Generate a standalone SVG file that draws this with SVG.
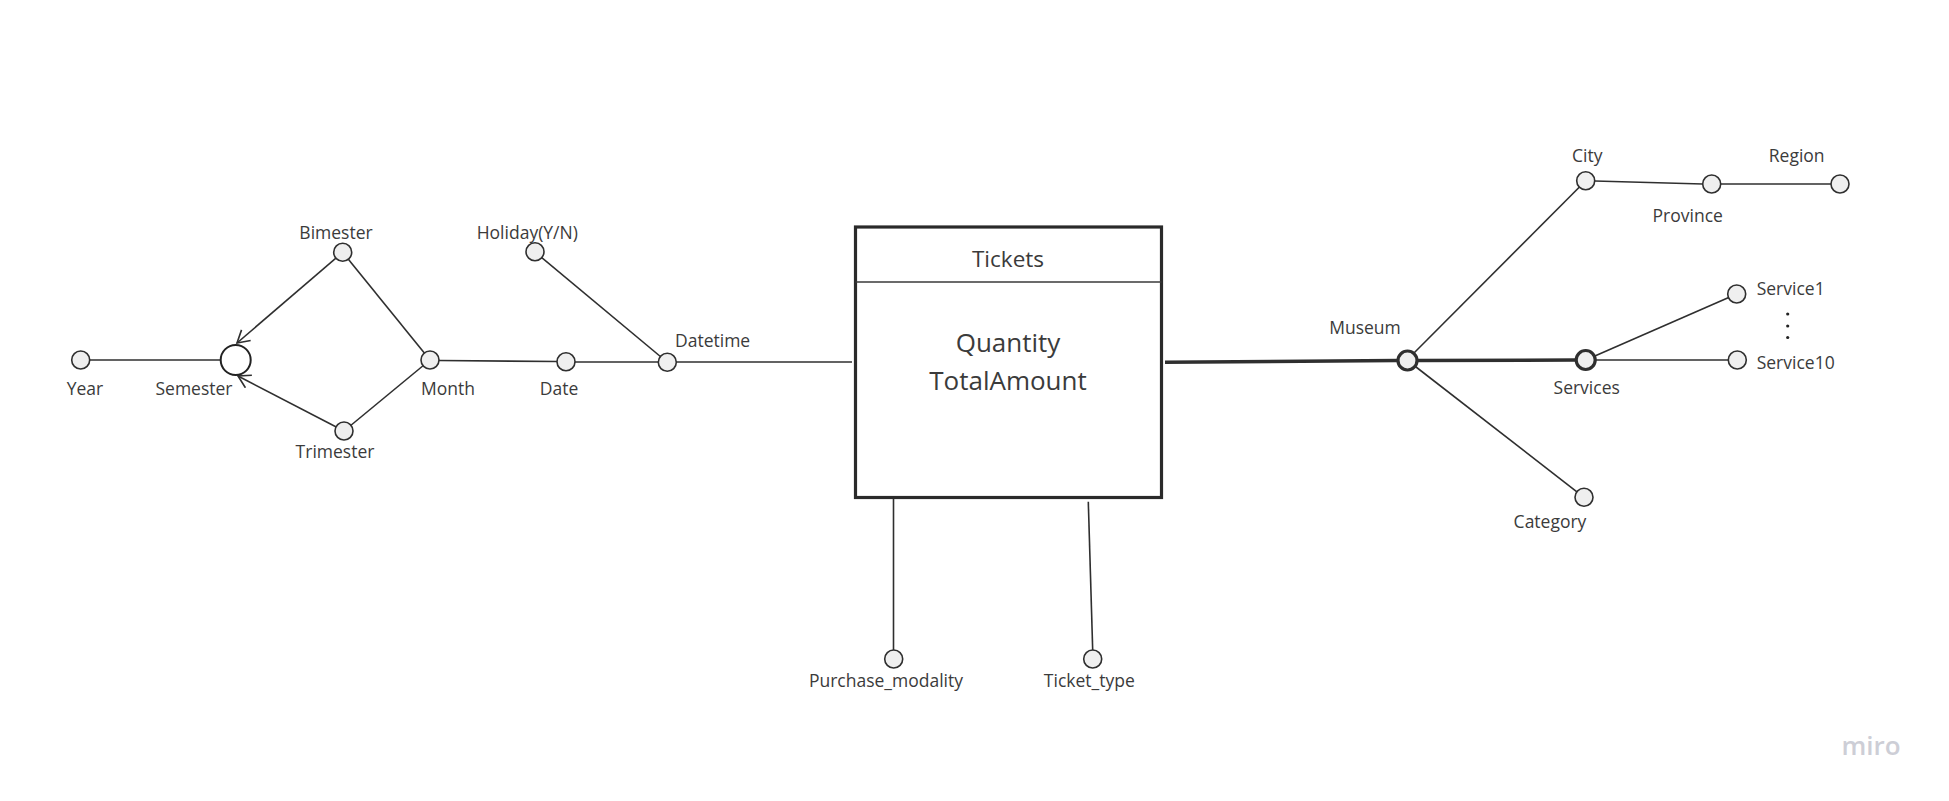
<svg xmlns="http://www.w3.org/2000/svg" width="1949" height="801" viewBox="0 0 1949 801">
<style>
text{font-family:"Open Sans","Liberation Sans",sans-serif;fill:#3b3b3b}
.lbl{font-size:17.5px}
.big{font-size:26px}
.ln{stroke:#2f2f2f;stroke-width:1.6;fill:none}
.thick{stroke:#2f2f2f;stroke-width:3.5;fill:none}
.att{fill:#efefef;stroke:#2f2f2f;stroke-width:1.6}
.key{fill:#efefef;stroke:#2f2f2f;stroke-width:3.2}
</style>
<defs>
<marker id="chev" markerUnits="userSpaceOnUse" viewBox="-14 -8 16 16" markerWidth="16" markerHeight="16" refX="0" refY="0" orient="auto">
<path d="M-12,-7 L0,0 L-12,7" fill="none" stroke="#2f2f2f" stroke-width="1.6"/>
</marker>
</defs>
<rect width="1949" height="801" fill="#ffffff"/>
<g id="connectors">
<line class="ln" x1="89" y1="360" x2="221" y2="360"/>
<line class="ln" x1="342.7" y1="252.3" x2="237" y2="343" marker-end="url(#chev)"/>
<line class="ln" x1="344" y1="431" x2="238" y2="376" marker-end="url(#chev)"/>
<line class="ln" x1="342.7" y1="252.3" x2="430" y2="360"/>
<line class="ln" x1="344" y1="431" x2="430" y2="360"/>
<line class="ln" x1="439" y1="360.5" x2="557" y2="361.5"/>
<line class="ln" x1="575" y1="362" x2="658" y2="362"/>
<line class="ln" x1="535" y1="252" x2="667" y2="362"/>
<line class="ln" x1="676" y1="362" x2="852" y2="362"/>
<line class="ln" x1="893.5" y1="499" x2="893.5" y2="650"/>
<line class="ln" x1="1088.3" y1="501.7" x2="1092.7" y2="650"/>
<line class="thick" x1="1165" y1="362.3" x2="1397" y2="360.5"/>
<line class="thick" x1="1417" y1="360.5" x2="1576" y2="360"/>
<line class="ln" x1="1407" y1="360" x2="1585.7" y2="180.7"/>
<line class="ln" x1="1407" y1="360" x2="1584" y2="497.3"/>
<line class="ln" x1="1594.7" y1="181" x2="1702.7" y2="184"/>
<line class="ln" x1="1720.7" y1="184" x2="1831" y2="184"/>
<line class="ln" x1="1585.7" y1="360" x2="1736.7" y2="294"/>
<line class="ln" x1="1595" y1="360" x2="1728" y2="360"/>
</g>
<g id="node-tickets">
<rect x="855.5" y="227" width="306" height="270.5" fill="#ffffff" stroke="#2a2a2a" stroke-width="3.2"/>
<line x1="855.5" y1="282" x2="1161.5" y2="282" stroke="#3a3a3a" stroke-width="1.4"/>
<text x="1008" y="266.7" text-anchor="middle" style="font-size:22.5px">Tickets</text>
<text x="1008" y="351.7" text-anchor="middle" class="big">Quantity</text>
<text x="1008" y="390" text-anchor="middle" class="big">TotalAmount</text>
</g>
<g id="node-year"><circle class="att" cx="80.7" cy="360" r="9"/><text class="lbl" x="85" y="395" text-anchor="middle">Year</text></g>
<g id="node-semester"><circle cx="235.7" cy="360" r="15" fill="#ffffff" stroke="#222" stroke-width="2"/><text class="lbl" x="194" y="395" text-anchor="middle">Semester</text></g>
<g id="node-bimester"><circle class="att" cx="342.7" cy="252.3" r="9"/><text class="lbl" x="336" y="239" text-anchor="middle">Bimester</text></g>
<g id="node-trimester"><circle class="att" cx="344" cy="431" r="9"/><text class="lbl" x="335" y="458" text-anchor="middle">Trimester</text></g>
<g id="node-month"><circle class="att" cx="430" cy="360" r="9"/><text class="lbl" x="421" y="395">Month</text></g>
<g id="node-date"><circle class="att" cx="566" cy="361.7" r="9"/><text class="lbl" x="559" y="395" text-anchor="middle">Date</text></g>
<g id="node-holiday"><circle class="att" cx="535" cy="251.7" r="9"/><text class="lbl" x="476.7" y="239">Holiday(Y/N)</text></g>
<g id="node-datetime"><circle class="att" cx="667.3" cy="362.3" r="9"/><text class="lbl" x="675" y="346.7">Datetime</text></g>
<g id="node-purchase"><circle class="att" cx="893.7" cy="659" r="9"/><text class="lbl" x="886" y="686.7" text-anchor="middle">Purchase_modality</text></g>
<g id="node-tickettype"><circle class="att" cx="1092.7" cy="659" r="9"/><text class="lbl" x="1089.3" y="686.7" text-anchor="middle">Ticket_type</text></g>
<g id="node-museum"><circle class="key" cx="1407.5" cy="360.5" r="9.5"/><text class="lbl" x="1365" y="334" text-anchor="middle">Museum</text></g>
<g id="node-city"><circle class="att" cx="1585.7" cy="180.7" r="9"/><text class="lbl" x="1587.3" y="162.3" text-anchor="middle">City</text></g>
<g id="node-province"><circle class="att" cx="1711.7" cy="184" r="9"/><text class="lbl" x="1687.7" y="221.7" text-anchor="middle">Province</text></g>
<g id="node-region"><circle class="att" cx="1840" cy="184" r="9"/><text class="lbl" x="1796.7" y="162.3" text-anchor="middle">Region</text></g>
<g id="node-services"><circle class="key" cx="1585.7" cy="360" r="9.5"/><text class="lbl" x="1586.7" y="394.3" text-anchor="middle">Services</text></g>
<g id="node-service1"><circle class="att" cx="1736.7" cy="294" r="9"/><text class="lbl" x="1756.7" y="295">Service1</text></g>
<g id="node-service10"><circle class="att" cx="1737.3" cy="360" r="9"/><text class="lbl" x="1756.7" y="369.3">Service10</text></g>
<g id="node-dots"><circle cx="1787.7" cy="314" r="1.6" fill="#222"/><circle cx="1787.7" cy="326" r="1.6" fill="#222"/><circle cx="1787.7" cy="337.5" r="1.6" fill="#222"/></g>
<g id="node-category"><circle class="att" cx="1584" cy="497.3" r="9"/><text class="lbl" x="1550" y="528.3" text-anchor="middle">Category</text></g>
<text x="1871" y="755" text-anchor="middle" style="font-size:26px;font-weight:600;fill:#cdced6">miro</text>
</svg>
